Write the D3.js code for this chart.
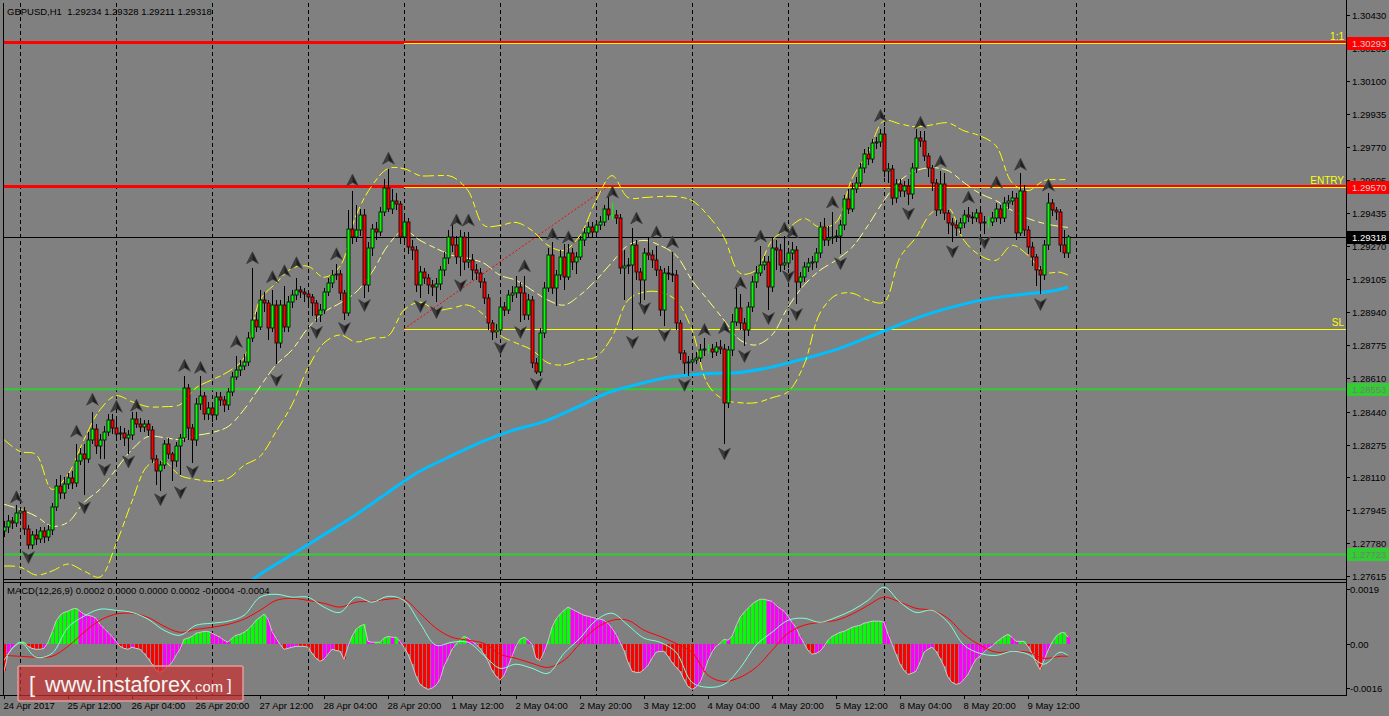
<!DOCTYPE html>
<html><head><meta charset="utf-8">
<script src="https://cdn.jsdelivr.net/npm/d3@7"></script>
<style>
html,body{margin:0;padding:0;background:#808080;overflow:hidden;}
svg{display:block;}
text{font-family:"Liberation Sans",Arial,sans-serif;}
</style></head><body>
<svg id="c" width="1389" height="716"></svg>
<script>
// ---------------- DATA ----------------
const headerText = "GBPUSD,H1  1.29234 1.29328 1.29211 1.29318";
const macdText = "MACD(12,26,9) 0.0002 0.0000 0.0000 0.0002 -0.0004 -0.0004";
const firstOpen = 1.2784;
const closes = [
1.2786,1.2789,1.2788,1.2793,1.2794,1.2785,1.2777,1.2782,1.2780,1.2784,
1.2781,1.27845,1.2796,1.28065,1.2803,1.28075,1.28105,1.2808,1.2819,1.2823,
1.2820,1.2830,1.28355,1.2827,1.2830,1.2834,1.2840,1.2836,1.2833,1.28335,
1.2831,1.28325,1.28405,1.2838,1.28365,1.2838,1.2835,1.2820,1.2814,1.2817,
1.2828,1.28225,1.2819,1.2827,1.2831,1.2856,1.2836,1.2830,1.2848,1.2852,
1.2843,1.2846,1.28425,1.28515,1.2850,1.28475,1.2854,1.28615,1.2865,1.2867,
1.2869,1.2881,1.2890,1.28865,1.2900,1.28985,1.2886,1.28975,1.28785,1.28975,
1.28865,1.2899,1.29025,1.2905,1.2904,1.2903,1.29015,1.28985,1.28925,1.2895,
1.2904,1.29085,1.29125,1.2913,1.29035,1.28935,1.29355,1.29315,1.2935,1.29425,
1.29075,1.2926,1.29355,1.2934,1.2944,1.29565,1.2946,1.2950,1.29485,1.29315,
1.2939,1.29265,1.2925,1.29075,1.2914,1.2911,1.29075,1.29065,1.2908,1.2915,
1.2921,1.29315,1.29275,1.29215,1.29315,1.2919,1.2920,1.2915,1.29135,1.2909,
1.2901,1.28885,1.2884,1.2885,1.28965,1.2895,1.29025,1.29035,1.29065,1.29035,
1.28925,1.2900,1.28685,1.2864,1.28835,1.2906,1.29225,1.2906,1.29125,1.29215,
1.29115,1.29235,1.2919,1.29215,1.2930,1.29335,1.29365,1.2934,1.29375,1.2939,
1.2946,1.29425,1.29425,1.2941,1.2916,1.2917,1.29175,1.29275,1.2914,1.2910,
1.29235,1.29225,1.2920,1.2915,1.2895,1.29135,1.2913,1.29125,1.28885,1.28735,
1.28685,1.2869,1.2870,1.2871,1.2875,1.28755,1.28755,1.2874,1.28765,1.28755,
1.28485,1.2875,1.2889,1.2896,1.28885,1.2885,1.28965,1.2909,1.29135,1.29175,
1.2919,1.29065,1.2926,1.2925,1.29175,1.29185,1.29235,1.2925,1.2909,1.29115,
1.29165,1.29185,1.2919,1.29235,1.29365,1.2930,1.2931,1.29315,1.2932,1.29375,
1.2951,1.2946,1.2956,1.2959,1.29665,1.29735,1.2971,1.2979,1.29795,1.29835,
1.2965,1.2966,1.29515,1.29585,1.2955,1.29575,1.29535,1.29665,1.29815,1.2980,
1.29725,1.29665,1.2959,1.2945,1.29585,1.29435,1.29385,1.29375,1.2936,1.29385,
1.29425,1.29415,1.2941,1.29435,1.29385,1.2939,1.2939,1.2941,1.2946,1.2941,
1.2949,1.2950,1.29515,1.29335,1.2955,1.2935,1.29265,1.29215,1.2915,1.29125,
1.29275,1.2949,1.2945,1.2944,1.29275,1.29235,1.29318];
const highs = [
1.2789,1.2792,1.2791,1.2797,1.2796,1.2796,1.2787,1.2784,1.2785,1.2786,
1.2786,1.2787,1.2798,1.2810,1.2812,1.2811,1.2813,1.2814,1.2828,1.2826,
1.2828,1.2834,1.2844,1.2838,1.2833,1.2837,1.2843,1.2843,1.2842,1.2837,
1.2836,1.2835,1.2844,1.2844,1.2841,1.2840,1.2840,1.2837,1.2822,1.2819,
1.2830,1.2831,1.2824,1.2829,1.2833,1.2862,1.2858,1.2838,1.2851,1.2862,
1.2854,1.2849,1.2848,1.2854,1.2854,1.2852,1.2856,1.2864,1.2872,1.2870,
1.2873,1.2884,1.2916,1.2894,1.2905,1.2904,1.2900,1.2905,1.2900,1.2900,
1.2907,1.2902,1.2905,1.2911,1.2907,1.2906,1.2905,1.2903,1.2900,1.2898,
1.2906,1.2911,1.2915,1.2918,1.2915,1.2905,1.2945,1.2955,1.2948,1.2946,
1.2946,1.2929,1.2938,1.2939,1.2947,1.2961,1.2966,1.2956,1.2954,1.2950,
1.2942,1.2941,1.2930,1.2927,1.2917,1.2916,1.2913,1.2910,1.2911,1.2917,
1.2924,1.2935,1.2938,1.2932,1.2935,1.2934,1.2934,1.2923,1.2918,1.2916,
1.2911,1.2903,1.2890,1.2888,1.2900,1.2899,1.2905,1.2907,1.2912,1.2909,
1.2912,1.2903,1.2902,1.2871,1.2886,1.2909,1.2926,1.2929,1.2915,1.2925,
1.2928,1.2928,1.2926,1.2924,1.2932,1.2936,1.2939,1.2939,1.2940,1.2942,
1.2948,1.2952,1.2949,1.2945,1.2943,1.2925,1.2921,1.2936,1.2930,1.2916,
1.2926,1.2931,1.2925,1.2927,1.2917,1.2916,1.2917,1.2924,1.2915,1.2890,
1.2875,1.2872,1.2873,1.2874,1.2878,1.2881,1.2878,1.2878,1.2879,1.2880,
1.2878,1.2877,1.2893,1.2908,1.2903,1.2891,1.2899,1.2912,1.2917,1.2927,
1.2922,1.2922,1.2931,1.2930,1.2928,1.2932,1.2926,1.2929,1.2927,1.2914,
1.2919,1.2921,1.2922,1.2926,1.2939,1.2941,1.2937,1.2944,1.2935,1.2940,
1.2953,1.2956,1.2959,1.2962,1.2969,1.2976,1.2977,1.2981,1.2982,1.2986,
1.2987,1.2969,1.2968,1.2961,1.2961,1.2960,1.2961,1.2969,1.2986,1.2985,
1.2985,1.2974,1.2968,1.2961,1.2965,1.2964,1.2945,1.2941,1.2940,1.2941,
1.2945,1.2947,1.2944,1.2946,1.2945,1.2942,1.2942,1.2944,1.2949,1.2948,
1.2952,1.2953,1.2955,1.2954,1.2964,1.2958,1.2937,1.2929,1.2923,1.2917,
1.2930,1.2954,1.2951,1.2947,1.2946,1.2935,1.29328];
const lows = [
1.2781,1.2783,1.2785,1.2786,1.2790,1.2782,1.2775,1.2775,1.2777,1.2778,
1.2778,1.2779,1.2782,1.2794,1.2800,1.2800,1.2805,1.2805,1.2806,1.2817,
1.2802,1.2818,1.2828,1.2823,1.2820,1.2820,1.2832,1.2833,1.2830,1.2830,
1.2827,1.2823,1.2830,1.2836,1.2834,1.2834,1.2832,1.2818,1.2807,1.2804,
1.2815,1.2820,1.2809,1.2816,1.2812,1.2829,1.2830,1.2818,1.2827,1.2845,
1.2840,1.2840,1.2839,1.2840,1.2847,1.2844,1.2845,1.2852,1.2860,1.2862,
1.2865,1.2867,1.2879,1.2884,1.2885,1.2894,1.2880,1.2884,1.2868,1.2876,
1.2884,1.2884,1.2896,1.2900,1.2901,1.2899,1.2897,1.2892,1.2889,1.2889,
1.2893,1.2902,1.2906,1.2910,1.2900,1.2890,1.2892,1.2928,1.2929,1.2932,
1.2901,1.2904,1.2922,1.2930,1.2932,1.2942,1.2944,1.2943,1.2945,1.2928,
1.2929,1.2923,1.2920,1.2904,1.2901,1.2908,1.2903,1.2902,1.2899,1.2905,
1.2912,1.2918,1.2924,1.2918,1.2912,1.2915,1.2916,1.2910,1.2910,1.2906,
1.2898,1.2885,1.2880,1.2881,1.2883,1.2892,1.2893,1.2899,1.2901,1.2889,
1.2890,1.2890,1.2866,1.2863,1.2862,1.2881,1.2904,1.2903,1.2897,1.2910,
1.2905,1.2910,1.2915,1.2913,1.2920,1.2927,1.2931,1.2931,1.2932,1.2935,
1.2937,1.2940,1.2940,1.2938,1.2913,1.2900,1.2913,1.2885,1.2910,1.2898,
1.2900,1.2920,1.2916,1.2912,1.2892,1.2887,1.2910,1.2909,1.2885,1.2870,
1.2863,1.2862,1.2866,1.2868,1.2869,1.2872,1.2873,1.2871,1.2872,1.2873,
1.2828,1.2846,1.2872,1.2887,1.2885,1.2877,1.2882,1.2894,1.2906,1.2912,
1.2915,1.2895,1.2904,1.2915,1.2914,1.2915,1.2916,1.2920,1.2898,1.2906,
1.2909,1.2914,1.2915,1.2916,1.2921,1.2927,1.2927,1.2928,1.2929,1.2923,
1.2935,1.2943,1.2944,1.2954,1.2957,1.2964,1.2968,1.2969,1.2976,1.2977,
1.2962,1.2959,1.2948,1.2949,1.2952,1.2952,1.2948,1.2951,1.2964,1.2977,
1.2970,1.2962,1.2955,1.2942,1.2943,1.2940,1.2933,1.2929,1.2932,1.2933,
1.2936,1.2939,1.2938,1.2939,1.2935,1.2933,1.2936,1.2937,1.2939,1.2938,
1.2939,1.2946,1.2948,1.2930,1.2932,1.2932,1.2923,1.2917,1.2907,1.2903,
1.2910,1.2925,1.2942,1.2940,1.2924,1.2921,1.29211];

// fractal markers [bar, price]
const fractalUp = [[3,1.2801],[18,1.2834],[22,1.2850],[28,1.28465],[33,1.2847],[45,1.2867],[49,1.2866],[58,1.2879],[62,1.2921],[67,1.29115],[70,1.29145],[73,1.29185],[83,1.2923],[87,1.2960],[96,1.2971],[113,1.2940],[116,1.2940],[130,1.2917],[137,1.2933],[141,1.29315],[152,1.2954],[158,1.2941],[163,1.2934],[167,1.2929],[175,1.2885],[180,1.2886],[184,1.29085],[189,1.2932],[195,1.2936],[197,1.2934],[207,1.2949],[219,1.29925],[229,1.2989],[234,1.29695],[241,1.29515],[248,1.2959],[254,1.2968],[261,1.29575]];
const fractalDown = [[6,1.2771],[20,1.2796],[25,1.2815],[31,1.2819],[39,1.2800],[44,1.28035],[47,1.2814],[68,1.2860],[78,1.2884],[85,1.2886],[90,1.28975],[104,1.2897],[108,1.2894],[114,1.29075],[124,1.2876],[129,1.2884],[133,1.2858],[157,1.2879],[160,1.2896],[165,1.28825],[170,1.28575],[180,1.2823],[185,1.2872],[191,1.2891],[196,1.2912],[198,1.2893],[209,1.29185],[226,1.29435],[237,1.29245],[245,1.2929],[259,1.2898]];

// Bollinger bands, sampled every 4 bars (+ last bar)
const bandBars = d3.range(0, 265, 4).concat([266]);
const bandUpper = [1.2830,1.2824,1.28225,1.2805,1.28125,1.2830,1.2845,1.2852,1.2849,1.28465,
 1.28465,1.28475,1.2856,1.2860,1.2864,1.2871,1.2900,1.29085,1.2916,1.2917,
 1.29115,1.2917,1.29425,1.29575,1.2966,1.2966,1.29625,1.29625,1.2962,1.2955,
 1.29375,1.29375,1.2939,1.2935,1.29275,1.2925,1.29325,1.2950,1.29625,1.29515,
 1.29515,1.2952,1.2952,1.2950,1.29425,1.29315,1.29135,1.2915,1.2930,1.2936,
 1.2941,1.29365,1.2939,1.2961,1.2974,1.2990,1.29885,1.2987,1.2988,1.2989,
 1.2985,1.29825,1.29775,1.2959,1.2955,1.2960,1.29605,1.29605];
const bandMiddle = [1.27975,1.2795,1.27915,1.27865,1.27885,1.27985,1.2805,1.2815,1.2825,1.28315,
 1.2831,1.2830,1.2832,1.28335,1.28365,1.2845,1.28565,1.28675,1.2875,1.2886,
 1.2894,1.28985,1.2904,1.2914,1.29275,1.2935,1.2930,1.2926,1.29225,1.2921,
 1.29185,1.29125,1.2910,1.2905,1.2900,1.28975,1.29025,1.2910,1.2919,1.29275,
 1.2930,1.29275,1.29225,1.2910,1.2900,1.2890,1.2880,1.28775,1.28825,1.28965,
 1.29075,1.2915,1.2920,1.29265,1.29375,1.2950,1.2960,1.2965,1.29665,1.2965,
 1.2959,1.29535,1.2950,1.2945,1.2941,1.29385,1.2937,1.29365];
const bandLower = [1.27665,1.2766,1.2762,1.2764,1.27675,1.2764,1.2761,1.27775,1.2799,1.2817,
 1.2819,1.2812,1.2810,1.2809,1.28105,1.2817,1.28215,1.2834,1.28475,1.2866,
 1.28785,1.28825,1.2879,1.2881,1.2882,1.2895,1.2899,1.2895,1.2896,1.28975,
 1.28925,1.28825,1.28785,1.2875,1.28685,1.28675,1.2870,1.28715,1.28815,1.2900,
 1.2904,1.2904,1.2900,1.2885,1.28575,1.2850,1.28485,1.28485,1.2851,1.2854,
 1.28675,1.28935,1.29025,1.29035,1.2900,1.2899,1.29215,1.29315,1.2944,1.29465,
 1.2930,1.29225,1.2920,1.29275,1.29225,1.2914,1.2914,1.29125];

// 200 moving average (blue), sampled
const maBars = [59,63,71,79,87,95,103,111,119,127,135,143,151,159,167,175,183,191,199,207,215,223,231,239,247,255,263,266];
const maValues = [1.2755,1.2761,1.2771,1.2781,1.2791,1.2802,1.2813,1.2821,1.28285,1.28345,1.2839,1.2846,1.28535,1.2858,1.28615,1.2863,1.28635,1.2866,1.2870,1.28745,1.28805,1.2887,1.2893,1.28975,1.2901,1.2903,1.2905,1.29065];

// horizontal levels
const levelNames  = ["1:1", "ENTRY", "SL", "", ""];
const levelPrices = [1.30293, 1.29570, 1.28855, 1.28553, 1.27723];
const currentPrice = 1.29318;
const trendFrom = [100, 1.28855], trendTo = [151, 1.29570];

// MACD panel
const osma = [
-0.00092,-0.00034,-0.00014,-0.00003,0.00007,0.00007,-0.00007,-0.00014,-0.00017,-0.00017,
-0.00014,0.00007,0.00041,0.00079,0.00099,0.00109,0.00113,0.00120,0.00123,0.00113,
0.00103,0.00099,0.00096,0.00089,0.00068,0.00055,0.00041,0.00027,0.00010,-0.00007,
-0.00014,-0.00017,-0.00010,-0.00014,-0.00017,-0.00031,-0.00048,-0.00068,-0.00089,-0.00096,
-0.00089,-0.00075,-0.00062,-0.00038,-0.00017,0.00017,0.00021,0.00027,0.00038,0.00041,
0.00044,0.00044,0.00038,0.00031,0.00024,0.00014,0.00007,0.00021,0.00031,0.00034,
0.00041,0.00051,0.00065,0.00082,0.00092,0.00103,0.00086,0.00044,0.00021,0,
-0.00017,-0.00014,-0.00010,-0.00007,-0.00007,-0.00007,-0.00010,-0.00031,-0.00048,-0.00058,
-0.00051,-0.00034,-0.00017,-0.00021,-0.00024,-0.00051,-0.00007,0.00027,0.00051,0.00062,
0.00068,0.00010,0.00007,0.00007,0.00007,0.00021,0.00027,0.00024,0.00024,0.00010,
-0.00010,-0.00034,-0.00068,-0.00109,-0.00137,-0.00147,-0.00154,-0.00150,-0.00140,-0.00120,
-0.00075,-0.00048,-0.00017,0,0.00014,0.00027,0.00021,0.00010,0,-0.00014,
-0.00034,-0.00058,-0.00089,-0.00109,-0.00123,-0.00106,-0.00075,-0.00041,-0.00007,0.00017,
0.00024,0.00014,0,-0.00048,-0.00055,-0.00027,0.00010,0.00058,0.00086,0.00103,
0.00116,0.00127,0.00120,0.00113,0.00106,0.00099,0.00096,0.00092,0.00089,0.00086,
0.00082,0.00072,0.00055,0.00034,0.00007,-0.00021,-0.00062,-0.00092,-0.00096,-0.00096,
-0.00086,-0.00072,-0.00048,-0.00027,-0.00024,-0.00024,-0.00041,-0.00062,-0.00079,-0.00092,
-0.00120,-0.00144,-0.00154,-0.00147,-0.00130,-0.00096,-0.00055,-0.00027,-0.00007,0.00003,
0.00017,0.00014,0.00027,0.00062,0.00092,0.00109,0.00123,0.00137,0.00147,0.00154,
0.00154,0.00150,0.00147,0.00133,0.00123,0.00113,0.00096,0.00075,0.00058,0.00027,
0.00003,-0.00021,-0.00034,-0.00031,-0.00024,-0.00007,0.00014,0.00027,0.00034,0.00041,
0.00044,0.00051,0.00058,0.00062,0.00065,0.00072,0.00075,0.00079,0.00079,0.00079,
0.00075,0.00034,0,-0.00034,-0.00068,-0.00089,-0.00103,-0.00099,-0.00092,-0.00062,
-0.00027,-0.00017,-0.00010,-0.00024,-0.00048,-0.00075,-0.00113,-0.00130,-0.00137,-0.00133,
-0.00120,-0.00103,-0.00075,-0.00051,-0.00041,-0.00027,-0.00014,-0.00007,0.00007,0.00017,
0.00027,0.00034,0.00024,0.00010,0.00010,0.00010,-0.00007,-0.00031,-0.00062,-0.00086,
-0.00055,-0.00021,0.00007,0.00027,0.00038,0.00041,0.00024];
const macdMain = [-0.00055,0.00007,-0.00044,-0.00031,0.00058,0.00096,0.00120,0.00116,0.00109,0.00086,
 0.00048,0.00031,0.00065,0.00072,0.00079,0.00099,0.00161,0.00171,0.00161,0.00161,
 0.00127,0.00109,0.00161,0.00144,0.00164,0.00150,0.00072,-0.00003,0.00007,0.00007,
 -0.00038,-0.00082,-0.00068,-0.00082,-0.00099,-0.00031,0.00021,0.00082,0.00106,0.00065,
 0.00021,0.00007,-0.00027,-0.00130,-0.00147,-0.00137,-0.00082,-0.00003,0.00041,0.00082,
 0.00089,0.00075,0.00092,0.00116,0.00150,0.00195,0.00144,0.00109,0.00116,0.00075,
 -0.00003,-0.00031,-0.00038,-0.00024,-0.00034,-0.00068,-0.00027,-0.00038];
const macdSignal = [-0.00038,-0.00041,-0.00044,-0.00041,-0.00007,0.00041,0.00082,0.00103,0.00106,0.00092,
 0.00062,0.00041,0.00051,0.00058,0.00068,0.00086,0.00116,0.00150,0.00157,0.00150,
 0.00140,0.00127,0.00144,0.00147,0.00154,0.00154,0.00106,0.00055,0.00024,0.00014,
 0.00003,-0.00034,-0.00048,-0.00065,-0.00079,-0.00055,0.00003,0.00055,0.00082,0.00082,
 0.00048,0.00027,0.00003,-0.00027,-0.00106,-0.00127,-0.00113,-0.00079,-0.00021,0.00038,
 0.00065,0.00075,0.00082,0.00103,0.00133,0.00161,0.00144,0.00123,0.00116,0.00089,
 0.00034,-0.00003,-0.00027,-0.00024,-0.00027,-0.00048,-0.00041,-0.00041];

// axes
const priceTicks = [1.30430,1.30265,1.30100,1.29935,1.29770,1.29605,1.29435,1.29270,1.29105,1.28940,1.28775,1.28610,1.28440,1.28275,1.28110,1.27945,1.27780,1.27615];
const macdTicks = [0.0019, 0, -0.0016];
const macdTickLabels = ["0.0019", "0.00", "-0.0016"];
const timeLabels = ["24 Apr 2017","25 Apr 12:00","26 Apr 04:00","26 Apr 20:00","27 Apr 12:00","28 Apr 04:00","28 Apr 20:00","1 May 12:00","2 May 04:00","2 May 20:00","3 May 12:00","4 May 04:00","4 May 20:00","5 May 12:00","8 May 04:00","8 May 20:00","9 May 12:00"];
const timeLabelBars = d3.range(0, 257, 16);
const dayStartBars = d3.range(4, 269, 24);

// ---------------- DRAW ----------------
const svg = d3.select("#c");
const L = 3, R = 1346, mainTop = 3, mainBot = 579, macdTop = 582, macdBot = 695;
const x = d3.scaleLinear().domain([0, 266]).range([4, 1068]);
const y = d3.scaleLinear().domain([1.27615, 1.30430]).range([576, 15.3]);
const ym = d3.scaleLinear().domain([0, 0.0019]).range([644.3, 588.7]);
const px = v => Math.round(v);

const defs = svg.append("defs");
defs.append("clipPath").attr("id","cm").append("rect").attr("x",L+1).attr("y",mainTop).attr("width",R-L-1).attr("height",mainBot-mainTop);
defs.append("clipPath").attr("id","cd").append("rect").attr("x",L+1).attr("y",macdTop+1).attr("width",R-L-1).attr("height",macdBot-macdTop-1);

// grid (day separators)
const grid = svg.append("g").attr("stroke","#000").attr("stroke-width",1).attr("stroke-dasharray","4,3");
dayStartBars.forEach(b => {
  const gx = px(x(b)) + 0.5;
  grid.append("line").attr("x1",gx).attr("x2",gx).attr("y1",mainTop).attr("y2",mainBot);
  grid.append("line").attr("x1",gx).attr("x2",gx).attr("y1",macdTop).attr("y2",macdBot);
});

const main = svg.append("g").attr("clip-path","url(#cm)");

// levels (base)
const levelColors = ["#ff0000","#ff0000","#ffff00","#32cd32","#32cd32"];
const levelWidths = [3,3,1,2,2];
levelPrices.forEach((p,k) => {
  if (levelNames[k] === "SL") return;
  main.append("line").attr("x1",L).attr("x2",R).attr("y1",y(p)).attr("y2",y(p))
    .attr("stroke",levelColors[k]).attr("stroke-width",levelWidths[k]);
});
// trade object overlays (yellow) starting at trendFrom bar
[0,1,2].forEach(k => {
  const yy = Math.round(y(levelPrices[k])) + 0.5;
  main.append("line").attr("x1",x(trendFrom[0])).attr("x2",R).attr("y1",yy).attr("y2",yy)
    .attr("stroke","#ffff00").attr("stroke-width",1);
});
main.append("line").attr("x1",x(trendFrom[0])).attr("y1",y(trendFrom[1]))
  .attr("x2",x(trendTo[0])).attr("y2",y(trendTo[1]))
  .attr("stroke","#ff0000").attr("stroke-width",1).attr("stroke-dasharray","2,2");

// current price line
const cpy = Math.round(y(currentPrice)) + 0.5;
main.append("line").attr("x1",L).attr("x2",R).attr("y1",cpy).attr("y2",cpy).attr("stroke","#000").attr("stroke-width",1);

// MA
main.append("path").datum(maBars.map((b,k)=>[b,maValues[k]]))
  .attr("d", d3.line().x(d=>x(d[0])).y(d=>y(d[1])).curve(d3.curveMonotoneX))
  .attr("fill","none").attr("stroke","#00bfff").attr("stroke-width",3);

// Bollinger bands
const bandLine = d3.line().x(d=>x(d[0])).y(d=>y(d[1])).curve(d3.curveCatmullRom);
[[bandUpper,"#ffff00"],[bandMiddle,"#ffff80"],[bandLower,"#ffff00"]].forEach(([arr,col]) => {
  main.append("path").datum(bandBars.map((b,k)=>[b,arr[k]]))
    .attr("d", bandLine).attr("fill","none").attr("stroke",col).attr("stroke-width",1)
    .attr("stroke-dasharray","11,4,6,3");
});

// candles
const cg = main.append("g");
closes.forEach((c,i) => {
  const o = i === 0 ? firstOpen : closes[i-1];
  const X = px(x(i));
  const yh = px(y(highs[i])), yl = px(y(lows[i]));
  const yo = px(y(o)), yc = px(y(c));
  const doji = Math.abs(o - c) < 0.00002;
  cg.append("rect").attr("x",X).attr("y",yh).attr("width",1).attr("height",Math.max(1,yl-yh))
    .attr("fill", doji ? "#00ff00" : "#000");
  if (doji) {
    cg.append("rect").attr("x",X-1).attr("y",yc).attr("width",3).attr("height",1).attr("fill","#00ff00");
    return;
  }
  const top = Math.min(yo,yc), h = Math.max(Math.abs(yo-yc),1);
  cg.append("rect").attr("x",X-1).attr("y",top).attr("width",3).attr("height",h)
    .attr("fill", c > o ? "#00ff00" : "#ff0000")
    .attr("stroke","#000").attr("stroke-width",0.8);
});

// fractals
const fg = main.append("g");
function fractal(b, p, up) {
  const s = up ? 1 : -1;
  const g = fg.append("g").attr("transform",`translate(${px(x(b))+0.5},${y(p)}) scale(1,${s})`);
  g.append("path").attr("d","M0,-6.5 L6,5.5 L0,2 L-6,5.5 Z").attr("fill","#1e1e1e").attr("stroke","#4a4a4a").attr("stroke-width",0.7);
  g.append("path").attr("d","M0,-6.5 L-6,5.5 L0,2 Z").attr("fill","#3c3c3c");
}
fractalUp.forEach(([b,p]) => fractal(b,p,true));
fractalDown.forEach(([b,p]) => fractal(b,p,false));

// level texts
const lt = svg.append("g").attr("fill","#ffff00").attr("font-size","10px").attr("text-anchor","end");
lt.append("text").attr("x",R-2).attr("y",y(levelPrices[0])-3).text(levelNames[0]);
lt.append("text").attr("x",R-2).attr("y",y(levelPrices[1])-3).text(levelNames[1]);
lt.append("text").attr("x",R-2).attr("y",y(levelPrices[2])-3).text(levelNames[2]);

// header
svg.append("text").attr("x",7).attr("y",15).attr("font-size","9.5px").attr("fill","#000").attr("xml:space","preserve").text(headerText);

// ---- MACD panel ----
const md = svg.append("g").attr("clip-path","url(#cd)");
osma.forEach((v,i) => {
  const prev = i === 0 ? v : osma[i-1];
  let col;
  if (v >= 0) col = v >= prev ? "#00ff00" : "#ff00ff";
  else col = v <= prev ? "#ff0000" : "#ff00ff";
  const X = px(x(i));
  const y0 = px(ym(0)), y1 = px(ym(v));
  md.append("rect").attr("x",X-1).attr("width",3).attr("y",Math.min(y0,y1)).attr("height",Math.max(1,Math.abs(y1-y0)))
    .attr("fill",col);
});
md.append("path").datum(osma).attr("d", d3.line().x((d,i)=>x(i)).y(d=>ym(d)))
  .attr("fill","none").attr("stroke","#c8c8c8").attr("stroke-width",1);
md.append("path").datum(bandBars.map((b,k)=>[b,macdSignal[k]]))
  .attr("d", d3.line().x(d=>x(d[0])).y(d=>ym(d[1])).curve(d3.curveCatmullRom))
  .attr("fill","none").attr("stroke","#ff0000").attr("stroke-width",1);
md.append("path").datum(bandBars.map((b,k)=>[b,macdMain[k]]))
  .attr("d", d3.line().x(d=>x(d[0])).y(d=>ym(d[1])).curve(d3.curveCatmullRom))
  .attr("fill","none").attr("stroke","#7fffd4").attr("stroke-width",1);

svg.append("text").attr("x",7).attr("y",594).attr("font-size","9.5px").attr("fill","#000").text(macdText);

// ---- frames ----
const fr = svg.append("g").attr("stroke","#000").attr("stroke-width",1).attr("fill","none");
fr.append("line").attr("x1",L+0.5).attr("x2",L+0.5).attr("y1",mainTop).attr("y2",macdBot);
fr.append("line").attr("x1",R+0.5).attr("x2",R+0.5).attr("y1",0).attr("y2",macdBot);
fr.append("line").attr("x1",L).attr("x2",R+1).attr("y1",mainBot+0.5).attr("y2",mainBot+0.5);
fr.append("line").attr("x1",L).attr("x2",R+1).attr("y1",macdTop+0.5).attr("y2",macdTop+0.5);
fr.append("line").attr("x1",0).attr("x2",R+1).attr("y1",macdBot+0.5).attr("y2",macdBot+0.5);

// price axis
const pa = svg.append("g");
priceTicks.forEach(p => {
  const yy = Math.round(y(p)) + 0.5;
  pa.append("line").attr("x1",R+1).attr("x2",R+4).attr("y1",yy).attr("y2",yy).attr("stroke","#000");
  pa.append("text").attr("x",1352).attr("y",yy).attr("dy","0.35em").attr("font-size","9.5px").attr("fill","#000").text(p.toFixed(5));
});
macdTicks.forEach((v,k) => {
  const yy = Math.min(Math.round(ym(v)), 688) + 0.5;
  pa.append("line").attr("x1",R+1).attr("x2",R+4).attr("y1",yy).attr("y2",yy).attr("stroke","#000");
  pa.append("text").attr("x",1350).attr("y",yy).attr("dy","0.35em").attr("font-size","9.5px").attr("fill","#000").text(macdTickLabels[k]);
});
// price boxes
function box(p, bg, fg) {
  const yy = Math.round(y(p));
  pa.append("rect").attr("x",R+1).attr("y",yy-6).attr("width",1389-R-1).attr("height",13).attr("fill",bg);
  pa.append("text").attr("x",1352).attr("y",yy+0.5).attr("dy","0.35em").attr("font-size","9.5px").attr("fill",fg).text(p.toFixed(5));
}
box(levelPrices[0], "#ff0000", "#d0d0d0");
box(levelPrices[1], "#ff0000", "#d0d0d0");
box(levelPrices[3], "#32cd32", "#7a7a7a");
box(levelPrices[4], "#32cd32", "#7a7a7a");
box(currentPrice, "#000000", "#ffffff");

// time axis
const ta = svg.append("g");
timeLabelBars.forEach((b,k) => {
  const tx = px(x(b)) + 0.5;
  ta.append("line").attr("x1",tx).attr("x2",tx).attr("y1",macdBot).attr("y2",macdBot+4).attr("stroke","#000");
  ta.append("text").attr("x",tx-1).attr("y",709).attr("font-size","9.5px").attr("fill","#000").text(timeLabels[k]);
});

// logo
const lg = svg.append("g");
lg.append("rect").attr("x",18).attr("y",666).attr("width",225).attr("height",35).attr("rx",2)
  .attr("fill","#c83232").attr("fill-opacity",0.72).attr("stroke","#e29a9a").attr("stroke-width",1.5);
lg.append("text").attr("x",29).attr("y",692).attr("font-size","22px").attr("fill","#f4f4f4").text("[");
const lgt = lg.append("text").attr("x",45).attr("y",692).attr("fill","#f4f4f4")
  .attr("textLength",178).attr("lengthAdjust","spacingAndGlyphs");
lgt.append("tspan").attr("font-size","22px").text("www.instaforex");
lgt.append("tspan").attr("font-size","15px").text(".com");
lg.append("text").attr("x",227).attr("y",691).attr("font-size","17px").attr("fill","#f4f4f4").text("]");
</script>
</body></html>
